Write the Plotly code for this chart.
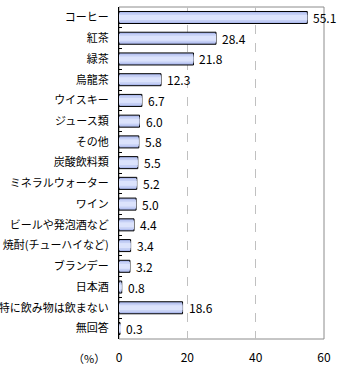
import plotly.graph_objects as go

categories = ["コーヒー", "紅茶", "緑茶", "烏龍茶", "ウイスキー", "ジュース類", "その他",
              "炭酸飲料類", "ミネラルウォーター", "ワイン", "ビールや発泡酒など",
              "焼酎(チューハイなど)", "ブランデー", "日本酒", "特に飲み物は飲まない", "無回答"]
values = [55.1, 28.4, 21.8, 12.3, 6.7, 6.0, 5.8, 5.5, 5.2, 5.0, 4.4, 3.4, 3.2, 0.8, 18.6, 0.3]
x_ticks = [0, 20, 40, 60]

font_family = "Noto Sans CJK JP"

fig = go.Figure()
# outer bar (darker edge, black outline)
fig.add_trace(go.Bar(
    y=categories, x=values, orientation="h", width=0.58,
    marker=dict(color="#aebbee", line=dict(color="#000000", width=1)),
    cliponaxis=False, hoverinfo="skip",
))
# inner layers to mimic the vertical gradient
for w, c in [(0.42, "#c6d0f5"), (0.24, "#dce3fc")]:
    fig.add_trace(go.Bar(
        y=categories, x=values, orientation="h", width=w,
        marker=dict(color=c, line=dict(width=0)),
        hoverinfo="skip",
    ))

value_labels = [dict(x=v, y=c, xref="x", yref="y", text=f"{v:.1f}", showarrow=False,
                     xanchor="left", yanchor="middle", xshift=4,
                     font=dict(family=font_family, size=12, color="#000000"))
                for c, v in zip(categories, values)]

fig.update_layout(
    width=340, height=370,
    margin=dict(l=119, r=16, t=7, b=31, autoexpand=False),
    barmode="overlay",
    showlegend=False,
    plot_bgcolor="#ffffff", paper_bgcolor="#ffffff",
    font=dict(family=font_family, size=11, color="#000000"),
    xaxis=dict(range=[0, 60], tickvals=x_ticks, ticktext=[str(t) for t in x_ticks],
               showgrid=True, gridcolor="#c0c0c0", griddash="dash", gridwidth=1,
               zeroline=False, showline=False, ticks="", fixedrange=True,
               automargin=False, tickfont=dict(size=12), ticklabelstandoff=10),
    yaxis=dict(categoryorder="array", categoryarray=categories, autorange="reversed",
               showline=True, linecolor="#000000", linewidth=1,
               ticks="inside", tickson="boundaries", ticklen=3, tickcolor="#000000",
               showgrid=False, zeroline=False, tickfont=dict(size=11),
               automargin=False, ticklabelstandoff=7),
    shapes=[dict(type="rect", xref="paper", yref="paper", x0=0, x1=1, y0=0, y1=1,
                 line=dict(color="#8c8c8c", width=1), layer="below")],
    annotations=value_labels + [
        dict(text="（%）", xref="paper", yref="paper", x=-0.06, y=0,
             yshift=-19, xanchor="right", yanchor="middle", showarrow=False,
             font=dict(family=font_family, size=11))],
)

fig.write_html("out.html")
